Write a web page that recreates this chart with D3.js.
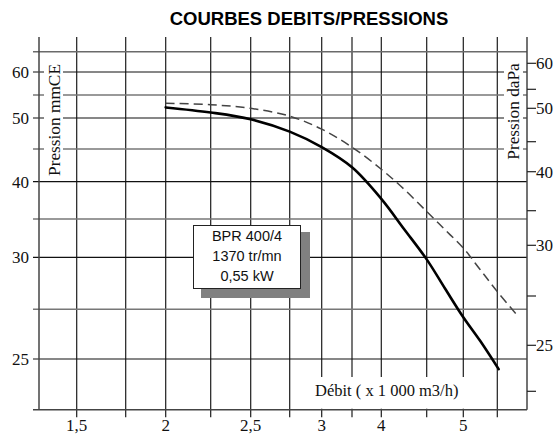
<!DOCTYPE html>
<html><head><meta charset="utf-8">
<script src="https://cdn.jsdelivr.net/npm/d3@7"></script>
<style>body{margin:0;background:#fff}</style>
</head><body><svg id="c" width="558" height="434"></svg>
<script>
// ---------- data ----------
const title = "COURBES DEBITS/PRESSIONS";
const flowTickValues = [1.5, 2, 2.5, 3, 4, 5];
const flowTickLabels = ["1,5", "2", "2,5", "3", "4", "5"];
const flowGridValues = [1.5, 1.75, 2, 2.25, 2.5, 2.75, 3, 3.5, 4, 4.5, 5, 5.5];
const mmceTickValues = [60, 50, 40, 30, 25];
const mmceMinorValues = [55, 45, 35, 27.5];
const dapaTickValues = [60, 50, 40, 30, 25];
const dapaMinorValues = [55, 45, 35, 27.5, 22.5];
const flowSolid = [2, 2.25, 2.5, 2.75, 3, 3.5, 4, 4.25, 4.5, 4.75, 5, 5.25, 5.52];
const pressureSolid = [52.3, 51.2, 49.8, 47.8, 45.3, 42.2, 37.7, 33.7, 29.9, 28.5, 27.1, 25.9, 24.5];
const flowDashed = [2, 2.25, 2.5, 2.75, 3, 3.5, 4, 4.25, 4.5, 4.75, 5, 5.25, 5.5, 5.82];
const pressureDashed = [53.2, 52.9, 52.1, 50.4, 48.2, 45.3, 41.9, 39.0, 36.0, 33.6, 31.2, 29.4, 28.35, 27.1];
const boxLines = ["BPR 400/4", "1370 tr/mn", "0,55 kW"];
const yLabelLeft = "Pression mmCE";
const yLabelRight = "Pression daPa";
const xLabel = "Débit ( x 1 000 m3/h)";

// ---------- layout (hand-drawn, non-uniform scales of the original) ----------
const svg = d3.select("#c");
const x = d3.scaleLinear()
  .domain([1.31, ...flowGridValues, 5.94])
  .range([39, 76.7, 125.7, 165.7, 210.7, 250.7, 289.7, 321.7, 352, 381.3, 426.7, 463.3, 497.3, 527]);
const y = d3.scaleLinear()
  .domain([65, 60, 55, 50, 45, 40, 35, 30, 27.5, 25, 22.5])
  .range([51.7, 72, 95, 118, 149, 181.7, 219, 257.3, 309.3, 359, 409.7]);
const yR = d3.scaleLinear()
  .domain([60, 55, 50, 45, 40, 35, 30, 27.5, 25, 22.5])
  .range([63.3, 89.3, 108.3, 141.7, 171.7, 210.7, 245.3, 296, 345.3, 391.3]);

const L = x.range()[0], R = x.range()[x.range().length - 1];
const T = y(65), B = y(22.5);
const serif = "'Liberation Serif','Times New Roman',serif";
const sans = "'Liberation Sans',Arial,Helvetica,sans-serif";

// vertical grid lines (extend as ticks below the frame)
svg.append("g").selectAll("line").data(flowGridValues).join("line")
  .attr("x1", d => x(d)).attr("x2", d => x(d))
  .attr("y1", 37).attr("y2", B + 7.5)
  .attr("stroke", "#1c1c1c").attr("stroke-width", 1.2);

// horizontal grid lines
svg.append("g").selectAll("line").data(mmceMinorValues).join("line")
  .attr("x1", L - 6).attr("x2", R).attr("y1", d => y(d)).attr("y2", d => y(d))
  .attr("stroke", "#777").attr("stroke-width", 1.4);
svg.append("g").selectAll("line").data(mmceTickValues).join("line")
  .attr("x1", L - 6).attr("x2", R).attr("y1", d => y(d)).attr("y2", d => y(d))
  .attr("stroke", "#111").attr("stroke-width", 1.2);

// frame
svg.append("line").attr("x1", L - 6).attr("x2", R).attr("y1", T).attr("y2", T)
  .attr("stroke", "#6a6a6a").attr("stroke-width", 1.6);
svg.append("line").attr("x1", L - 6).attr("x2", R).attr("y1", B).attr("y2", B)
  .attr("stroke", "#444").attr("stroke-width", 1.5);
svg.append("line").attr("x1", L).attr("x2", L).attr("y1", 37).attr("y2", B)
  .attr("stroke", "#444").attr("stroke-width", 1.5);
svg.append("line").attr("x1", R).attr("x2", R).attr("y1", 37).attr("y2", B)
  .attr("stroke", "#444").attr("stroke-width", 1.5);

// white backgrounds behind axis titles
svg.append("rect").attr("x", 44).attr("y", 60).attr("width", 19).attr("height", 119).attr("fill", "#fff");
svg.append("rect").attr("x", 504).attr("y", 60).attr("width", 19).attr("height", 103).attr("fill", "#fff");
svg.append("rect").attr("x", 302).attr("y", 377).attr("width", 165).attr("height", B - 377 - 1).attr("fill", "#fff");

// left tick labels
svg.append("g").selectAll("text").data(mmceTickValues).join("text")
  .attr("x", 29).attr("y", d => y(d)).attr("dy", "0.35em")
  .attr("text-anchor", "end").attr("font-family", serif).attr("font-size", 17)
  .attr("fill", "#111").text(d => d);

// right axis ticks
svg.append("g").selectAll("line").data([...dapaTickValues, ...dapaMinorValues]).join("line")
  .attr("x1", R).attr("x2", R + 9).attr("y1", d => yR(d)).attr("y2", d => yR(d))
  .attr("stroke", "#222").attr("stroke-width", 1.2);
svg.append("g").selectAll("text").data(dapaTickValues).join("text")
  .attr("x", R + 9).attr("y", d => yR(d)).attr("dy", "0.35em")
  .attr("font-family", serif).attr("font-size", 17).attr("fill", "#111").text(d => d);

// bottom tick labels
svg.append("g").selectAll("text").data(flowTickValues).join("text")
  .attr("x", d => x(d)).attr("y", 430.5)
  .attr("text-anchor", "middle").attr("font-family", serif).attr("font-size", 17)
  .attr("fill", "#111").text((d, i) => flowTickLabels[i]);

// axis titles
svg.append("text").attr("transform", `translate(60,120) rotate(-90)`)
  .attr("text-anchor", "middle").attr("font-family", serif).attr("font-size", 17.3)
  .attr("fill", "#111").text(yLabelLeft);
svg.append("text").attr("transform", `translate(519,111.5) rotate(-90)`)
  .attr("text-anchor", "middle").attr("font-family", serif).attr("font-size", 17.3)
  .attr("fill", "#111").text(yLabelRight);
svg.append("text").attr("x", 315).attr("y", 396)
  .attr("font-family", serif).attr("font-size", 16.5).attr("fill", "#111").text(xLabel);

// curves
const line = d3.line().x(d => x(d[0])).y(d => y(d[1])).curve(d3.curveCatmullRom.alpha(0.5));
svg.append("path").datum(flowDashed.map((f, i) => [f, pressureDashed[i]]))
  .attr("d", line).attr("fill", "none").attr("stroke", "#444")
  .attr("stroke-width", 1.5).attr("stroke-dasharray", "9,5");
svg.append("path").datum(flowSolid.map((f, i) => [f, pressureSolid[i]]))
  .attr("d", line).attr("fill", "none").attr("stroke", "#000")
  .attr("stroke-width", 2.6).attr("stroke-linecap", "round");

// info box with shadow
svg.append("rect").attr("x", 201).attr("y", 232).attr("width", 109).attr("height", 66).attr("fill", "#808080");
svg.append("rect").attr("x", 193.5).attr("y", 225.5).attr("width", 107).attr("height", 63)
  .attr("fill", "#fff").attr("stroke", "#222").attr("stroke-width", 1);
svg.append("g").selectAll("text").data(boxLines).join("text")
  .attr("x", 247).attr("y", (d, i) => 240.5 + i * 20)
  .attr("text-anchor", "middle").attr("font-family", sans).attr("font-size", 14.5)
  .attr("fill", "#111").text(d => d);

// title
svg.append("text").attr("x", 309).attr("y", 25).attr("text-anchor", "middle")
  .attr("font-family", sans).attr("font-weight", "bold").attr("font-size", 18.5)
  .attr("fill", "#000").text(title);
</script>
</body></html>
